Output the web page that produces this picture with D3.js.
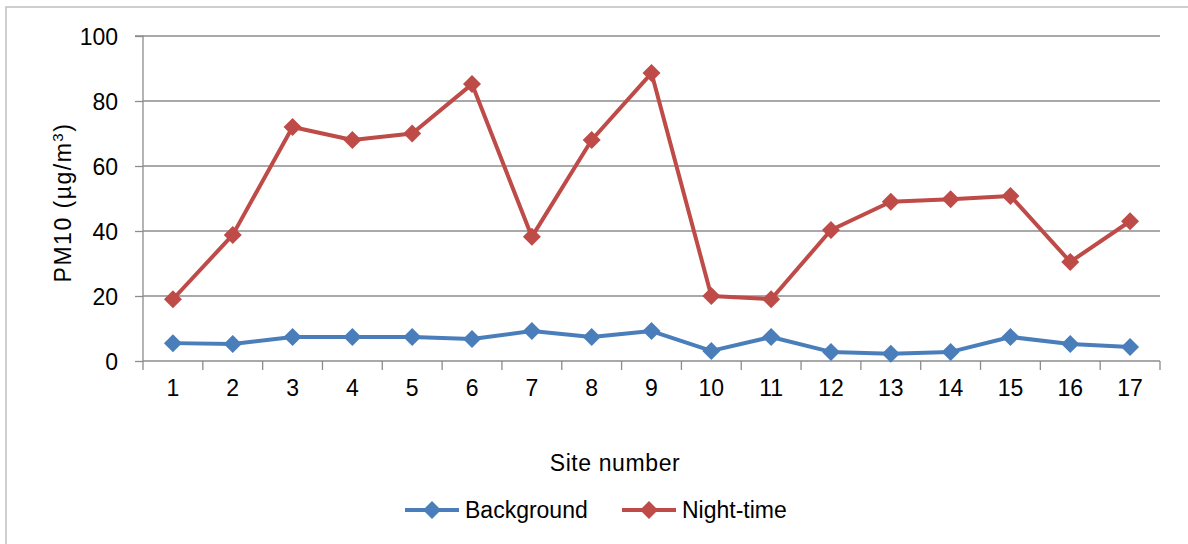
<!DOCTYPE html>
<html><head><meta charset="utf-8">
<script src="https://cdn.jsdelivr.net/npm/d3@7"></script>
<style>body{margin:0;background:#fff}svg{display:block}text{font-family:"Liberation Sans",Arial,sans-serif;fill:#000}</style>
</head><body>
<script>
const sites = ["1","2","3","4","5","6","7","8","9","10","11","12","13","14","15","16","17"];
const background = [5.5,5.2,7.4,7.4,7.4,6.8,9.2,7.4,9.2,3.1,7.4,2.8,2.2,2.8,7.4,5.2,4.3];
const nightTime = [19,38.8,72,68,70,85.2,38.2,68,88.6,20,19,40.3,49,49.8,50.8,30.5,43];
const yTicks = [0,20,40,60,80,100];
const seriesNames = ["Background","Night-time"];
const colors = ["#4a7ebb","#be4b48"];

const W=1188,H=544;
const svg=d3.select("body").append("svg").attr("width",W).attr("height",H);
svg.append("rect").attr("x",6).attr("y",7).attr("width",W+10).attr("height",H+10)
  .attr("fill","none").attr("stroke","#bfbfbf").attr("stroke-width",1.5);

const L=143,R=1160,T=36,B=361;
const x=d3.scaleBand().domain(sites).range([L,R]);
const y=d3.scaleLinear().domain([0,100]).range([B,T]);

// gridlines
svg.append("g").selectAll("line").data(yTicks.filter(d=>d>0)).join("line")
  .attr("x1",L).attr("x2",R).attr("y1",d=>y(d)).attr("y2",d=>y(d))
  .attr("stroke","#8c8c8c").attr("stroke-width",1.3);

// y axis
const ya=svg.append("g").attr("transform",`translate(${L},0)`)
  .call(d3.axisLeft(y).tickValues(yTicks).tickSize(8).tickPadding(17));
ya.selectAll("text").style("font-size","23px").attr("dy","0.35em");
ya.selectAll("line,path").attr("stroke","#8c8c8c").attr("stroke-width",1.3);
ya.select("path").attr("d",`M-8,${T}H0V${B}`);

// x axis
const xa=svg.append("g").attr("transform",`translate(0,${B})`)
  .call(d3.axisBottom(x).tickSize(0).tickPadding(27));
xa.selectAll("text").style("font-size","23px").attr("dy","0.35em");
xa.select("path").attr("stroke","#8c8c8c").attr("stroke-width",1.3).attr("d",`M${L},0H${R}`);
const edges=sites.map(s=>x(s)).concat([R]);
xa.selectAll("line.edge").data(edges).join("line").attr("class","edge")
  .attr("x1",d=>d).attr("x2",d=>d).attr("y1",0).attr("y2",9)
  .attr("stroke","#8c8c8c").attr("stroke-width",1.3);

const cx=s=>x(s)+x.bandwidth()/2;
const diamond=(size)=>`M0,${-size}L${size},0L0,${size}L${-size},0Z`;
[background,nightTime].forEach((vals,i)=>{
  const line=d3.line().x((d,j)=>cx(sites[j])).y(d=>y(d));
  svg.append("path").datum(vals).attr("d",line).attr("fill","none")
    .attr("stroke",colors[i]).attr("stroke-width",4).attr("stroke-linejoin","round");
  svg.append("g").selectAll("path").data(vals).join("path")
    .attr("d",diamond(9)).attr("fill",colors[i])
    .attr("transform",(d,j)=>`translate(${cx(sites[j])},${y(d)})`);
});

// axis titles
svg.append("text").attr("transform",`translate(71,${(T+B)/2+4}) rotate(-90)`)
  .attr("text-anchor","middle").style("font-size","23px").attr("letter-spacing","1.5px")
  .html('PM10 (µg/m<tspan baseline-shift="super" font-size="15px">3</tspan>)');
svg.append("text").attr("x",615).attr("y",471).attr("text-anchor","middle")
  .style("font-size","23px").attr("letter-spacing","0.6px").text("Site number");

// legend
const lg=[{x:405},{x:622}];
seriesNames.forEach((n,i)=>{
  const g=svg.append("g").attr("transform",`translate(${lg[i].x},510)`);
  g.append("line").attr("x1",0).attr("x2",54).attr("stroke",colors[i]).attr("stroke-width",4);
  g.append("path").attr("d",diamond(9)).attr("transform","translate(27,0)").attr("fill",colors[i]);
  g.append("text").attr("x",60).attr("dy","0.35em").style("font-size","23px").text(n);
});
</script>
</body></html>
